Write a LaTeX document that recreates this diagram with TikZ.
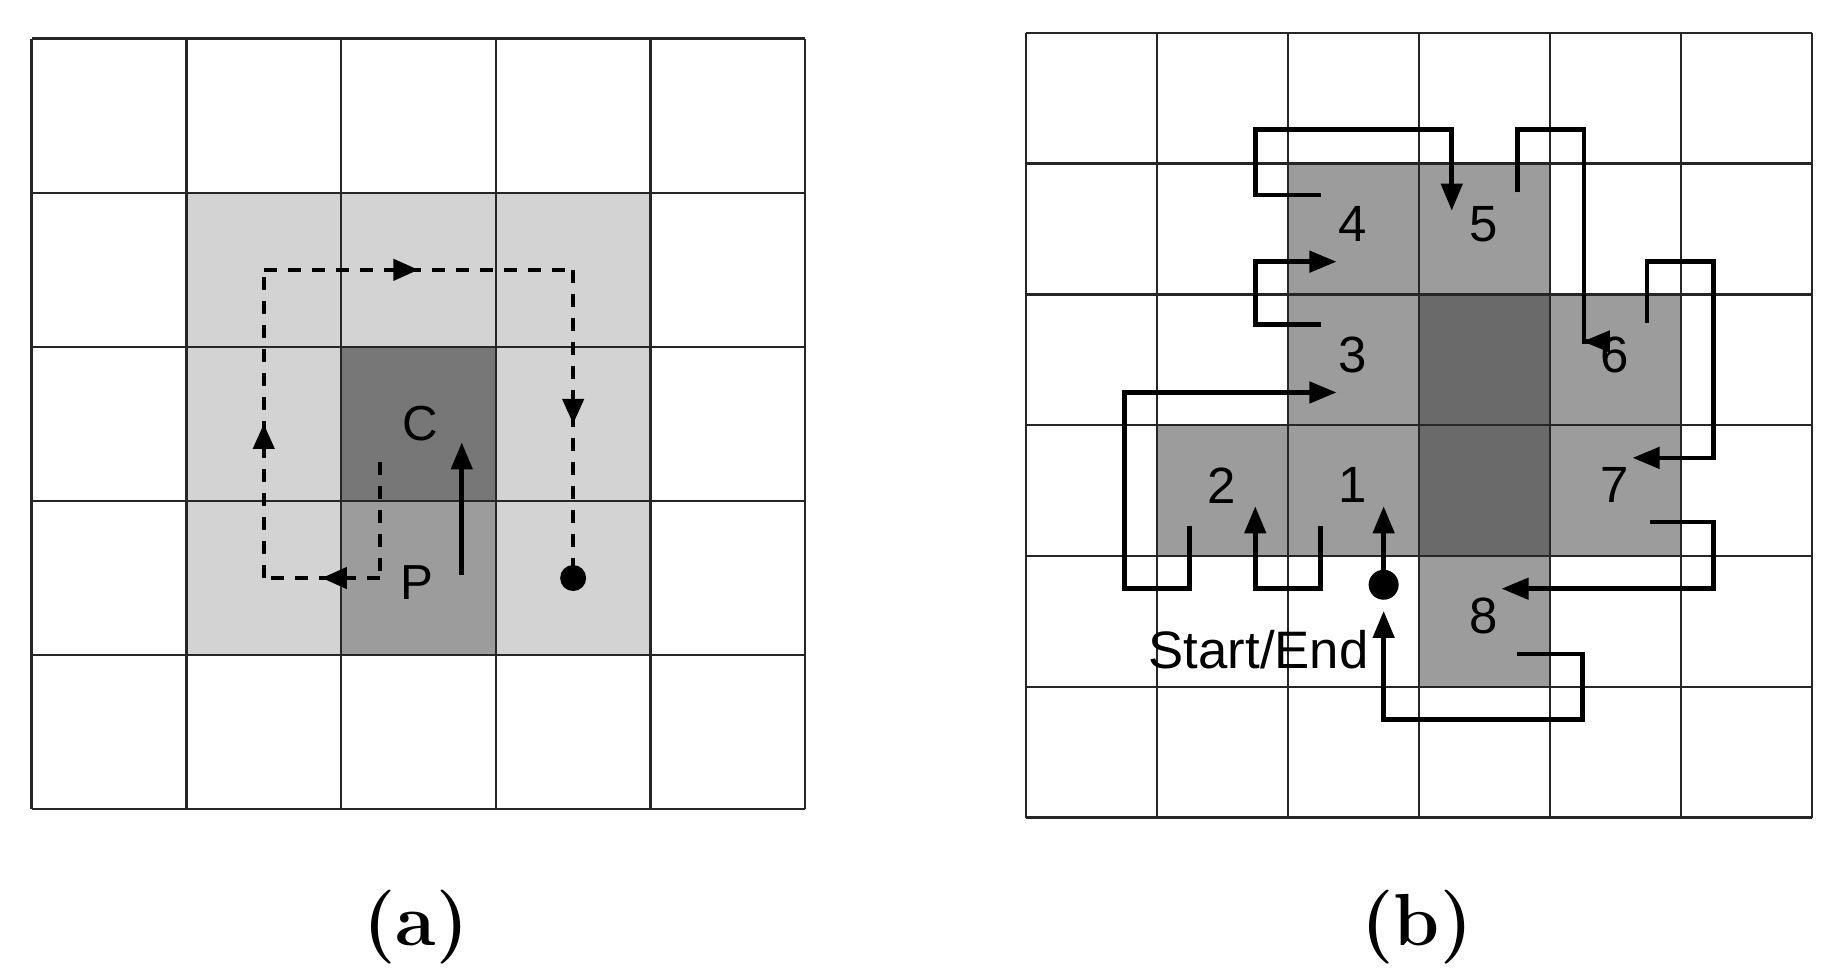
\documentclass[tikz,border=0pt]{standalone}
\usepackage{fontspec}
\setmainfont{Liberation Sans}
\newfontfamily\capfont{Latin Modern Roman}
\usetikzlibrary{arrows.meta,decorations.markings}
\definecolor{lightcell}{HTML}{D3D3D3}
\definecolor{midcell}{HTML}{9C9C9C}
\definecolor{darkcell}{HTML}{6A6A6A}
\definecolor{centrecell}{HTML}{777777}
\tikzset{
  gridline/.style={line width=0.7pt,black!85},
  route/.style={line width=1.3pt,-{Triangle[length=0.27cm,width=0.21cm]}},
  dashroute/.style={line width=1.2pt,dash pattern=on 0.13cm off 0.11cm,
    postaction={decorate,decoration={markings,
      mark=at position 0.5 with {\arrow{Triangle[length=0.25cm,width=0.21cm]}}}}},
  lbl/.style={font=\fontsize{14}{15}\selectfont},
  num/.style={font=\fontsize{14.5}{16}\selectfont},
  caption/.style={font=\capfont\bfseries\fontsize{21}{23}\selectfont}
}
\begin{document}
\begin{tikzpicture}
\useasboundingbox (0,0) rectangle (18.3,9.74);
% panel (a)
\begin{scope}[shift={(0.317,9.353)},x=1.547cm,y=-1.541cm]
  \fill[lightcell] (1,1) rectangle (4,4);
  \fill[centrecell] (2,2) rectangle (3,3);
  \fill[midcell] (2,3) rectangle (3,4);
  \foreach \i in {0,...,5} {
    \draw[gridline] (\i,0) -- (\i,5);
    \draw[gridline] (0,\i) -- (5,\i);
  }
  \node[lbl] (c) at (2.51,2.5) {C};
  \node[lbl] (p) at (2.49,3.53) {P};
  \coordinate (a0) at (2.25,2.75);
  \coordinate (a1) at (2.25,3.5);
  \coordinate (a2) at (1.5,3.5);
  \coordinate (a3) at (1.5,1.5);
  \coordinate (a4) at (3.5,1.5);
  \node[circle,fill,inner sep=0pt,minimum size=0.26cm] (aend) at (3.5,3.5) {};
  \draw[line width=1.2pt,dash pattern=on 0.13cm off 0.11cm] (a0) -- (a1);
  \draw[dashroute] (a1) -- (a2);
  \draw[dashroute] (a2) -- (a3);
  \draw[dashroute] (a3) -- (a4);
  \draw[dashroute] (a4) -- (aend.center);
  \coordinate (pc0) at (2.78,3.48);
  \coordinate (pc1) at (2.78,2.62);
  \draw[route] (pc0) -- (pc1);
\end{scope}
\node[caption] (capa) at (4.16,0.47) {(a)};
% panel (b)
\begin{scope}[shift={(10.26,9.412)},x=1.31cm,y=-1.308cm]
  \foreach \c/\r in {2/1,3/1,2/2,4/2,1/3,2/3,4/3,3/4}
    \fill[midcell] (\c,\r) rectangle ++(1,1);
  \fill[darkcell] (3,2) rectangle (4,4);
  \foreach \i in {0,...,6} {
    \draw[gridline] (\i,0) -- (\i,6);
    \draw[gridline] (0,\i) -- (6,\i);
  }
  \foreach \n/\c/\r in {1/2/3,2/1/3,3/2/2,4/2/1,5/3/1,6/4/2,7/4/3,8/3/4}
    \node[num] (n\n) at (\c+0.49,\r+0.46) {\n};
  \node[circle,fill,inner sep=0pt,minimum size=0.3cm] (start) at (2.73,4.22) {};
  \node[font=\fontsize{15}{16}\selectfont,anchor=east,inner sep=0pt] (startlbl) at (2.62,4.72) {Start/End};
  \coordinate (t1) at (2.73,3.62);
  \coordinate (t2) at (1.75,3.62);
  \coordinate (t3) at (2.37,2.75);
  \coordinate (t4) at (2.37,1.75);
  \coordinate (t5) at (3.25,1.36);
  \coordinate (t6) at (4.25,2.36);
  \coordinate (t7) at (4.63,3.25);
  \coordinate (t8) at (3.63,4.25);
  \coordinate (t9) at (2.73,4.42);
  \draw[route] (start.center) -- (t1);
  \draw[route] (2.25,3.77) -- (2.25,4.25) -- (1.75,4.25) -- (t2);
  \draw[route] (1.25,3.77) -- (1.25,4.25) -- (0.75,4.25) -- (0.75,2.75) -- (t3);
  \draw[route] (2.25,2.23) -- (1.75,2.23) -- (1.75,1.75) -- (t4);
  \draw[route] (2.25,1.24) -- (1.75,1.24) -- (1.75,0.74) -- (3.25,0.74) -- (t5);
  \draw[route] (3.75,1.22) -- (3.75,0.74) -- (4.26,0.74) |- (t6);
  \draw[route] (4.74,2.22) -- (4.74,1.75) -- (5.25,1.75) -- (5.25,3.25) -- (t7);
  \draw[route] (4.76,3.74) -- (5.25,3.74) -- (5.25,4.25) -- (t8);
  \draw[route] (3.75,4.75) -- (4.25,4.75) -- (4.25,5.25) -- (2.73,5.25) -- (t9);
\end{scope}
\node[caption] (capb) at (14.17,0.47) {(b)};
\end{tikzpicture}
\end{document}
